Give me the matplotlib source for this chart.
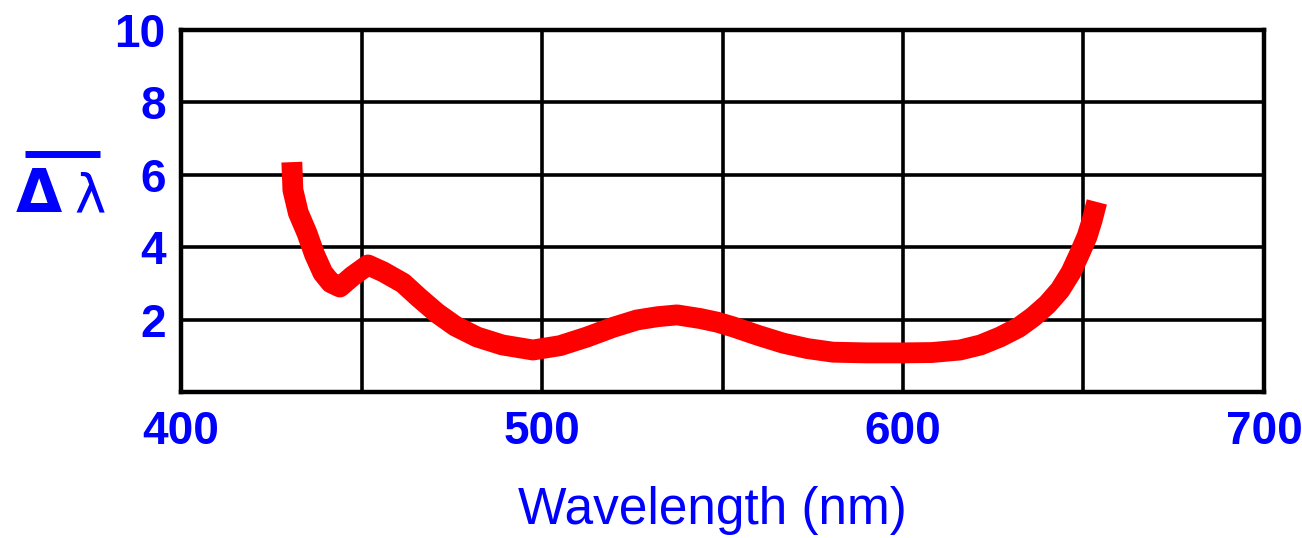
import matplotlib
matplotlib.use("Agg")
import matplotlib.pyplot as plt
from matplotlib.lines import Line2D

# curve (wavelength nm, delta-lambda)
wavelength = [430.7, 431.0, 432.5, 434.9, 437.0, 439.3, 441.5, 444.0, 447.5,
              451.8, 456.0, 461.5, 466.0, 470.9, 476.0, 482.0, 489.0, 497.5,
              505.0, 512.5, 519.5, 526.3, 532.0, 537.4, 543.8, 548.5, 552.9,
              560.0, 566.8, 573.5, 580.6, 590.0, 599.2, 608.0, 615.8, 621.5,
              626.9, 632.0, 636.0, 640.0, 643.5, 646.5, 649.0, 651.0, 652.4,
              653.7]
dlambda = [6.35, 5.58, 4.95, 4.39, 3.80, 3.29, 3.02, 2.90, 3.20,
           3.51, 3.32, 3.01, 2.60, 2.18, 1.82, 1.52, 1.30, 1.16,
           1.28, 1.52, 1.78, 1.99, 2.08, 2.13, 2.03, 1.93, 1.80,
           1.56, 1.35, 1.20, 1.10, 1.08, 1.08, 1.09, 1.16, 1.30,
           1.52, 1.78, 2.07, 2.42, 2.82, 3.30, 3.84, 4.30, 4.75,
           5.25]

x_ticks = [400, 450, 500, 550, 600, 650, 700]
x_tick_labels = ["400", "", "500", "", "600", "", "700"]
y_ticks = [0, 2, 4, 6, 8, 10]
y_tick_labels = ["", "2", "4", "6", "8", "10"]

BLUE = "#0000ff"
W, H = 1302, 538
plt.rcParams["font.family"] = ["Liberation Sans", "DejaVu Sans"]

fig = plt.figure(figsize=(W / 100, H / 100), dpi=100)
ax = fig.add_axes([181 / W, 1 - 392 / H, (1264 - 181) / W, (392 - 30) / H])

ax.plot(wavelength, dlambda, color="#ff0000", lw=15,
        solid_capstyle="butt", solid_joinstyle="round", zorder=3)

ax.set_xlim(400, 700)
ax.set_ylim(0, 10)
ax.set_xticks(x_ticks)
ax.set_xticklabels(x_tick_labels)
ax.set_yticks(y_ticks)
ax.set_yticklabels(y_tick_labels)
ax.tick_params(length=0, labelsize=33, labelcolor=BLUE)
for lbl in ax.get_xticklabels() + ax.get_yticklabels():
    lbl.set_fontweight("bold")
ax.tick_params(axis="x", pad=13)
ax.tick_params(axis="y", pad=11)
ax.grid(True, color="black", lw=2.6, zorder=1)
for s in ax.spines.values():
    s.set_linewidth(3.2)
    s.set_color("black")

fig.text(712 / W, 1 - 524 / H, "Wavelength (nm)", color=BLUE,
         fontsize=37, ha="center", va="baseline")

# y label: delta-lambda with a bar over it
fig.text(39 / W, 1 - 212 / H, "Δ", color=BLUE, fontsize=43, fontweight="bold",
         family="DejaVu Sans", ha="center", va="baseline")
fig.text(90 / W, 1 - 212 / H, "λ", color=BLUE, fontsize=38,
         family="DejaVu Sans", ha="center", va="baseline")
fig.add_artist(Line2D([25 / W, 100 / W], [1 - 153.5 / H, 1 - 153.5 / H],
                      color=BLUE, lw=5, solid_capstyle="butt",
                      transform=fig.transFigure))

fig.savefig("out.png", dpi=100)
